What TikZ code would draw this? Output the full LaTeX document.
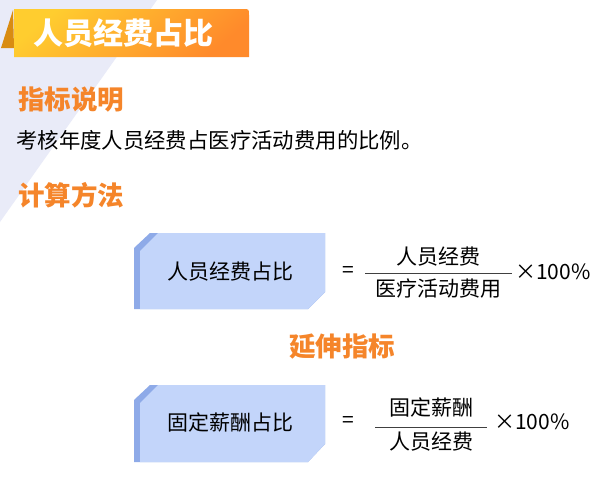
\documentclass[tikz,border=0pt]{standalone}
\usepackage{fontspec}
\setmainfont{Noto Sans CJK SC}
\usetikzlibrary{positioning, calc}
\definecolor{titleyellow}{HTML}{FFCD2F}
\definecolor{titleorange}{HTML}{FF8A2B}
\definecolor{titlefold}{HTML}{D98C12}
\definecolor{headorange}{HTML}{F5852A}
\definecolor{bandlilac}{HTML}{E9EBF8}
\definecolor{boxblue}{HTML}{C3D5FA}
\definecolor{edgeblue}{HTML}{8EAAE8}
\tikzset{
  title/.style={anchor=west, text=white, font=\fontsize{30}{32}\selectfont\bfseries},
  heading/.style={anchor=west, text=headorange, font=\fontsize{26.5}{28}\selectfont\bfseries},
  body/.style={anchor=west, font=\fontsize{21.4}{24}\selectfont},
  formtext/.style={font=\fontsize{21}{24}\selectfont},
  fracline/.style={draw=black!75, line width=0.8},
  every node/.style={inner sep=0}
}

\begin{document}
\begin{tikzpicture}[x=1pt, y=-1pt]
    \useasboundingbox (0,0) rectangle (603,477);
    \fill[white] (0,0) rectangle (603,477);
    \fill[bandlilac] (0,0) -- (157,0) -- (0,222) -- cycle;
    % title banner
    \fill[titlefold] (13,10) -- (1,48) -- (14,48) -- cycle;
    \shade[top color=titleyellow, bottom color=titleorange, shading angle=40]
      (14,57) -- (14,9) -- (243,9) .. controls (249,9) .. (249,15) -- (249,57) -- cycle;
    \node[title] (banner) at (33,33) {人员经费占比};
    \node[heading] (explain) at (18,100) {指标说明};
    \node[body] (define) at (16,140) {考核年度人员经费占医疗活动费用的比例。};
    \node[heading] (method) at (18,195) {计算方法};
    % first formula
    \fill[edgeblue] (134,248) -- (150,233) -- (325,233) -- (325,292) -- (308,309) -- (134,309) -- cycle;
    \fill[boxblue] (140,251) -- (158,233) -- (325,233) -- (325,292) -- (308,309) -- (140,309) -- cycle;
    \node[formtext] (ratio) at (230,272) {人员经费占比};
    \node[formtext] (equal) at (348,272) {=};
    \coordinate (barleft) at (365,273);
    \coordinate (barright) at (512,273);
    \draw[fracline] (barleft) -- (barright);
    \node[formtext, above=7pt of $(barleft)!.5!(barright)$] (staff) {人员经费};
    \node[formtext, below=6pt of $(barleft)!.5!(barright)$] (medical) {医疗活动费用};
    \node[formtext, anchor=west] (times) at (515,272) {×100\%};
    \node[heading, anchor=center] (extend) at (342,347) {延伸指标};
    % second formula
    \fill[edgeblue] (134,400) -- (150,385) -- (325,385) -- (325,444) -- (308,462) -- (134,462) -- cycle;
    \fill[boxblue] (140,403) -- (158,385) -- (325,385) -- (325,444) -- (308,462) -- (140,462) -- cycle;
    \node[formtext] (fixedratio) at (230,422) {固定薪酬占比};
    \node[formtext] (fixedequal) at (348,422) {=};
    \coordinate (fixedleft) at (375,427);
    \coordinate (fixedright) at (487,427);
    \draw[fracline] (fixedleft) -- (fixedright);
    \node[formtext, above=10pt of $(fixedleft)!.5!(fixedright)$] (salary) {固定薪酬};
    \node[formtext, below=5pt of $(fixedleft)!.5!(fixedright)$] (fixedstaff) {人员经费};
    \node[formtext, anchor=west] (fixedtimes) at (494,422) {×100\%};
\end{tikzpicture}
\end{document}
